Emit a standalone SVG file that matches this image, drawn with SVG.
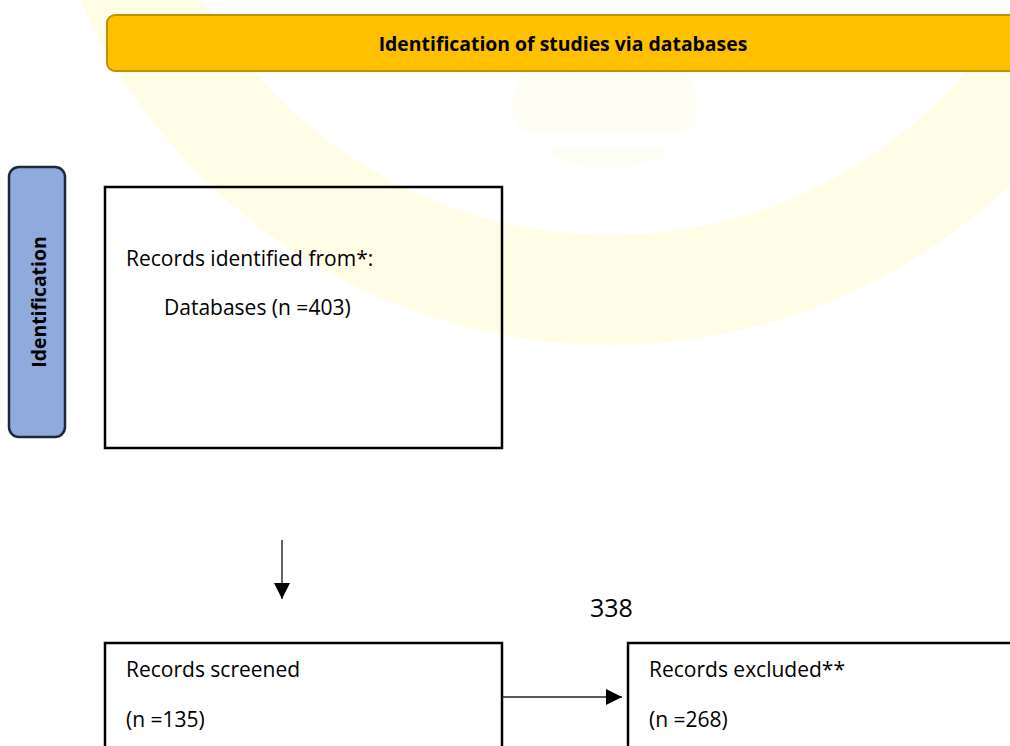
<svg xmlns="http://www.w3.org/2000/svg" width="1010" height="746" viewBox="0 0 1010 746">
  <style>
    .box { fill: none; stroke: #000; stroke-width: 2.5; }
    .txt { font-family: "Open Sans", "Liberation Sans", sans-serif; font-size: 21px; fill: #000; }
    .head { font-family: "Open Sans", "Liberation Sans", sans-serif; font-size: 19.4px; font-weight: bold; fill: #000; }
    .side { font-family: "Open Sans", "Liberation Sans", sans-serif; font-size: 19.4px; font-weight: bold; fill: #000; }
    .wire { stroke: #222; stroke-width: 1.4; fill: none; }
    .wm { fill: #fffde6; }
    .wm2 { fill: #fffef4; }
  </style>
  <defs>
    <marker id="arrow" viewBox="0 0 16 16" refX="16" refY="8" markerWidth="16" markerHeight="16" markerUnits="userSpaceOnUse" orient="auto">
      <path d="M0,0 L16,8 L0,16 Z" fill="#000"/>
    </marker>
  </defs>

  <rect width="1010" height="746" fill="#fff"/>

  <!-- faint background emblem -->
  <g id="emblem">
    <path class="wm" fill-rule="evenodd" d="M30,-235 a580,580 0 1,0 1160,0 a580,580 0 1,0 -1160,0 Z M140,-235 a470,470 0 1,0 940,0 a470,470 0 1,0 -940,0 Z"/>
    <path class="wm2" d="M520,70 C516,88 511,100 513,112 C514,128 522,133 540,133 L670,133 C689,133 697,128 697,112 C698,100 694,88 690,70 Z"/>
    <path class="wm2" d="M547,147 L667,147 C660,161 640,168 607,168 C574,168 554,161 547,147 Z"/>
  </g>

  <g id="banner">
    <rect x="107" y="15" width="930" height="56" rx="8" ry="8" fill="#ffc000" stroke="#bf9000" stroke-width="2"/>
    <text class="head" x="563" y="51" text-anchor="middle">Identification of studies via databases</text>
  </g>

  <g id="phase-identification">
    <rect x="9" y="167" width="56" height="270" rx="10" ry="10" fill="#8faadc" stroke="#1e2838" stroke-width="2.5"/>
    <text class="side" transform="translate(46,302) rotate(-90)" text-anchor="middle">Identification</text>
  </g>

  <g id="records-identified">
    <rect class="box" x="105" y="187" width="397" height="261"/>
    <text class="txt" x="126" y="266">Records identified from*:</text>
    <text class="txt" x="164" y="315">Databases (n =403)</text>
  </g>

  <g id="records-screened">
    <rect class="box" x="105" y="643" width="397" height="130"/>
    <text class="txt" x="126" y="677">Records screened</text>
    <text class="txt" x="126" y="727">(n =135)</text>
  </g>

  <g id="records-excluded">
    <rect class="box" x="628" y="643" width="420" height="130"/>
    <text class="txt" x="649" y="677">Records excluded**</text>
    <text class="txt" x="649" y="727">(n =268)</text>
  </g>

  <g id="count-label">
    <text class="txt" x="590" y="617" style="font-size:25px">338</text>
  </g>

  <g id="connectors">
    <line class="wire" x1="282" y1="540" x2="282" y2="599" marker-end="url(#arrow)"/>
    <line class="wire" x1="502" y1="697" x2="622" y2="697" marker-end="url(#arrow)"/>
  </g>
</svg>
